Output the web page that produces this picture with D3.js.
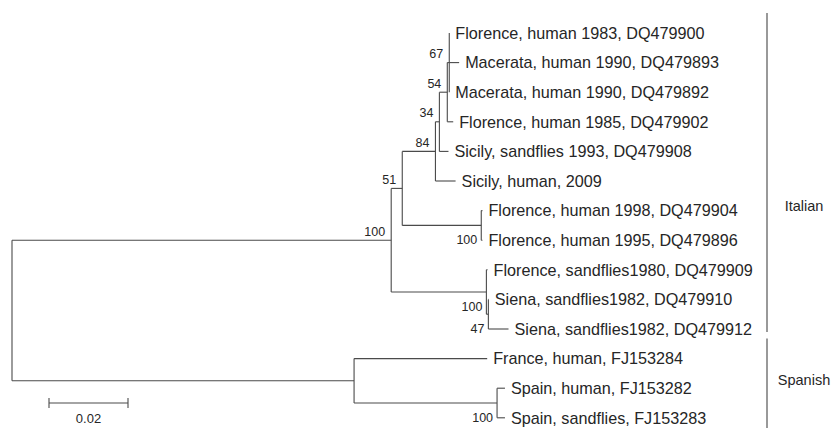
<!DOCTYPE html>
<html>
<head>
<meta charset="utf-8">
<script src="https://cdn.jsdelivr.net/npm/d3@7"></script>
<style>
  html, body { margin: 0; padding: 0; background: #fff; }
  svg { display: block; }
  text { font-family: "Liberation Sans", Arial, sans-serif; fill: #262626; }
</style>
</head>
<body>
<svg id="chart" width="831" height="428"></svg>
<script>
// ---- Tree data (node ids, parents, branch lengths in substitutions/site, bootstrap) ----
const nodeIds = [
  "root", "Italian", "n51", "n84", "n34", "n54", "n67",
  "Florence, human 1983, DQ479900",
  "Macerata, human 1990, DQ479893",
  "Macerata, human 1990, DQ479892",
  "Florence, human 1985, DQ479902",
  "Sicily, sandflies 1993, DQ479908",
  "Sicily, human, 2009",
  "nF",
  "Florence, human 1998, DQ479904",
  "Florence, human 1995, DQ479896",
  "nS",
  "Florence, sandflies1980, DQ479909",
  "n47",
  "Siena, sandflies1982, DQ479910",
  "Siena, sandflies1982, DQ479912",
  "Spanish",
  "France, human, FJ153284",
  "nSp",
  "Spain, human, FJ153282",
  "Spain, sandflies, FJ153283"
];
const parentIds = [
  "", "root", "Italian", "n51", "n84", "n34", "n54",
  "n67", "n67", "n67", "n54", "n34", "n84",
  "n51", "nF", "nF",
  "Italian", "nS", "nS", "n47", "n47",
  "root", "Spanish", "Spanish", "nSp", "nSp"
];
const branchLengths = [
  0, 0.0960, 0.0028, 0.0084, 0.0010, 0.0020, 0.0005,
  0.0000, 0.0025, 0.0000, 0.0015, 0.0023, 0.0051,
  0.0200, 0.0003, 0.0003,
  0.0241, 0.0003, 0.0005, 0.0001, 0.0051,
  0.0866, 0.0337, 0.0362, 0.0020, 0.0020
];
const bootstrap = [
  null, 100, 51, 84, 34, 54, 67,
  null, null, null, null, null, null,
  100, null, null,
  100, null, 47, null, null,
  null, null, 100, null, null
];
// Support label placement relative to node ("above" / "below")
const bootstrapSide = {
  "Italian": "above", "n51": "above", "n84": "above", "n34": "above",
  "n54": "above", "n67": "above",
  "nF": "below", "nS": "below", "n47": "below", "nSp": "below"
};
const groupNames = ["Italian", "Spanish"];
const groupFirstLeaf = ["Florence, human 1983, DQ479900", "France, human, FJ153284"];
const groupLastLeaf = ["Siena, sandflies1982, DQ479912", "Spain, sandflies, FJ153283"];
const groupLabelLeaf = ["Florence, human 1998, DQ479904", "Spain, human, FJ153282"];
const scaleBarValue = 0.02;
const scaleBarLabel = "0.02";

// ---- Build hierarchy ----
const rows = nodeIds.map((id, i) => ({ id, parent: parentIds[i] || null, len: branchLengths[i], boot: bootstrap[i] }));
const root = d3.stratify().id(d => d.id).parentId(d => d.parent)(rows);
root.each(d => { d.dist = d.parent ? d.parent.dist + d.data.len : 0; });

const leaves = root.leaves();

const x = d3.scaleLinear().domain([0, 0.1]).range([12, 407]);
const y = d3.scalePoint().domain(leaves.map(d => d.id)).range([33, 417.8]);

// assign y: leaves from scale, internal nodes midpoint of first & last child
root.eachAfter(d => {
  if (!d.children) d.py = y(d.id);
  else d.py = (d.children[0].py + d.children[d.children.length - 1].py) / 2;
  d.px = x(d.dist);
});

const svg = d3.select("#chart");
const lineColor = "#4a4a4a";
const g = svg.append("g");

// horizontal branches
g.selectAll("line.h").data(root.descendants().filter(d => d.parent))
  .join("line").attr("class", "h")
  .attr("x1", d => d.parent.px).attr("x2", d => d.px)
  .attr("y1", d => d.py).attr("y2", d => d.py)
  .attr("stroke", lineColor).attr("stroke-width", 1.1);

// vertical connectors
g.selectAll("line.v").data(root.descendants().filter(d => d.children))
  .join("line").attr("class", "v")
  .attr("x1", d => d.px).attr("x2", d => d.px)
  .attr("y1", d => d.children[0].py).attr("y2", d => d.children[d.children.length - 1].py)
  .attr("stroke", lineColor).attr("stroke-width", 1.1);

// leaf labels
g.selectAll("text.leaf").data(leaves)
  .join("text").attr("class", "leaf")
  .attr("x", d => d.px + 6).attr("y", d => d.py)
  .attr("dy", "0.36em")
  .attr("font-size", 16.2)
  .text(d => d.id);

// bootstrap labels
g.selectAll("text.boot").data(root.descendants().filter(d => d.data.boot != null))
  .join("text").attr("class", "boot")
  .attr("x", d => d.px - (bootstrapSide[d.id] === "below" ? 4 : 6))
  .attr("y", d => bootstrapSide[d.id] === "below" ? d.py + 14 : d.py - 9)
  .attr("dy", "0.36em")
  .attr("text-anchor", "end")
  .attr("font-size", 12.5)
  .text(d => d.data.boot);

// scale bar
const sbX0 = 49, sbY = 403;
const sbW = x(scaleBarValue) - x(0);
const sb = svg.append("g").attr("stroke", lineColor).attr("stroke-width", 1.1);
sb.append("line").attr("x1", sbX0).attr("x2", sbX0 + sbW).attr("y1", sbY).attr("y2", sbY);
sb.append("line").attr("x1", sbX0).attr("x2", sbX0).attr("y1", sbY - 5).attr("y2", sbY + 5);
sb.append("line").attr("x1", sbX0 + sbW).attr("x2", sbX0 + sbW).attr("y1", sbY - 5).attr("y2", sbY + 5);
svg.append("text").attr("x", sbX0 + sbW / 2).attr("y", 418).attr("dy", "0.36em")
  .attr("text-anchor", "middle").attr("font-size", 13).text(scaleBarLabel);

// group bars and labels
const barX = 767;
groupNames.forEach((name, i) => {
  const top = y(groupFirstLeaf[i]) - 20;
  const bottom = i < groupNames.length - 1 ? y(groupLastLeaf[i]) + 3 : 428;
  svg.append("line").attr("x1", barX).attr("x2", barX).attr("y1", top).attr("y2", bottom)
    .attr("stroke", "#555").attr("stroke-width", 1.2);
  svg.append("text").attr("x", 804).attr("y", y(groupLabelLeaf[i]) - (i === 0 ? 5 : 8))
    .attr("dy", "0.36em").attr("text-anchor", "middle").attr("font-size", 14.5).text(name);
});
</script>
</body>
</html>
